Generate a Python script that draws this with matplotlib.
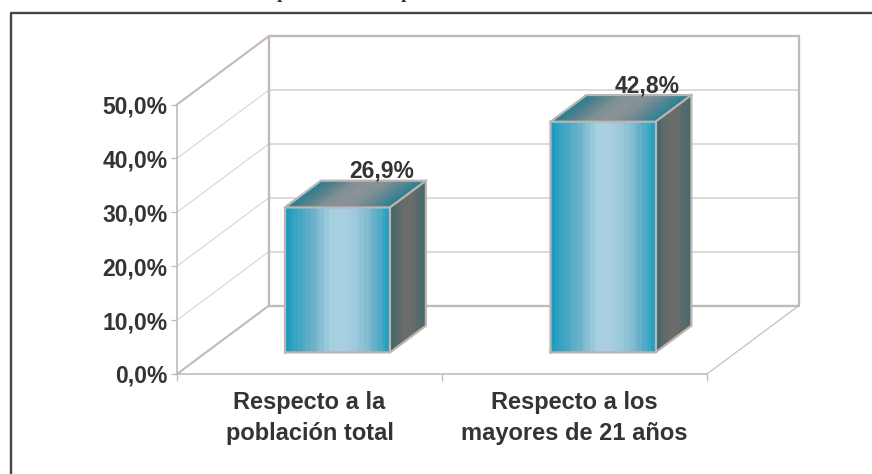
import numpy as np
import matplotlib
matplotlib.use('Agg')
import matplotlib.pyplot as plt
from matplotlib.colors import LinearSegmentedColormap

plt.rcParams['font.family'] = ['Liberation Sans', 'DejaVu Sans']

categories = ['Respecto a la\npoblación total', 'Respecto a los\nmayores de 21 años']
values = [26.9, 42.8]
value_labels = ['26,9%', '42,8%']
y_ticks = [0, 10, 20, 30, 40, 50]
y_labels = ['0,0%', '10,0%', '20,0%', '30,0%', '40,0%', '50,0%']

W, H = 872, 474
LINE = '#c2bab7'
GRID = '#d6cfcf'
TEXT = '#333338'

# pixel placement of the front plane of the 3d box
px0, px1 = 177, 707
py0, py50 = 374, 104.5
XU = (px1 - px0) / 2  # pixels per category
YU = (py0 - py50) / 50  # pixels per percent
# depth of the box, in data units
DX = 92 / XU
DY = 68.5 / YU
# bars sit between these fractions of the depth
D0, D1 = 0.315, 0.705
BAR_W = 105 / XU
BAR_L = [(285 - px0) / XU, (550.5 - px0) / XU]

front_cm = LinearSegmentedColormap.from_list('front', ['#1c9dc0', '#4aa8c4', '#72b3cb', '#a6cfe0',
                                                       '#a9d0e1', '#97c6da', '#6fb1ca', '#24a0c2'], N=24)
top_cm = LinearSegmentedColormap.from_list('top', ['#2a8091', '#55808c', '#7c9094', '#8a9298',
                                                   '#7f9095', '#5c8592', '#2d8294'], N=24)
side_cm = LinearSegmentedColormap.from_list('side', ['#3c676c', '#5a6a6b', '#6b6b6b', '#6b6b6b',
                                                     '#566b6c', '#44696e'], N=16)


def shade(ax, xa, ya, xb, yb, xc, yc, cmap):
    # a quad with a colour running from corner a to corner b, c is the depth/height corner
    s = np.linspace(0, 1, 65)
    t = np.array([0, 1])
    S, T = np.meshgrid(s, t)
    X = xa + S * (xb - xa) + T * (xc - xa)
    Y = ya + S * (yb - ya) + T * (yc - ya)
    C = ((s[:-1] + s[1:]) / 2).reshape(1, -1)
    ax.pcolormesh(X, Y, C, cmap=cmap, shading='flat', clip_on=False, zorder=4,
                  antialiased=False, vmin=0, vmax=1)


fig = plt.figure(figsize=(W / 100, H / 100), dpi=100)
ax = fig.add_axes([px0 / W, 1 - py0 / H, (px1 - px0) / W, (py0 - py50) / H])
ax.set_xlim(0, 2)
ax.set_ylim(0, 50)
ax.patch.set_alpha(0)

# back wall and side wall
for v in y_ticks[1:-1]:
    ax.plot([DX, 2 + DX], [v + DY, v + DY], color=GRID, lw=1.1, clip_on=False, zorder=1)
    ax.plot([0, DX], [v, v + DY], color=GRID, lw=0.7, clip_on=False, zorder=1)
ax.plot([DX, 2 + DX, 2 + DX, DX, DX], [DY, DY, 50 + DY, 50 + DY, DY], color=LINE, lw=1.7,
        clip_on=False, zorder=2)
ax.plot([0, DX], [50, 50 + DY], color=LINE, lw=1.5, clip_on=False, zorder=2)
ax.plot([0, DX], [0, DY], color=LINE, lw=1.5, clip_on=False, zorder=2)
ax.plot([2, 2 + DX], [0, DY], color=LINE, lw=0.8, clip_on=False, zorder=2)

# bars
for left, val, lab in zip(BAR_L, values, value_labels):
    x0 = left
    x1 = left + BAR_W
    y0 = D0 * DY
    y1 = y0 + val
    ddx = (D1 - D0) * DX
    ddy = (D1 - D0) * DY
    shade(ax, x0, y0, x1, y0, x0, y1, front_cm)
    shade(ax, x0, y1, x1, y1, x0 + ddx, y1 + ddy, top_cm)
    shade(ax, x1, y1, x1 + ddx, y1 + ddy, x1, y0, side_cm)
    outline_x = [x0, x1, x1 + ddx, x1 + ddx, x0 + ddx, x0, x0]
    outline_y = [y0, y0, y0 + ddy, y1 + ddy, y1 + ddy, y1, y0]
    ax.plot(outline_x, outline_y, color='#bdb5b2', lw=1.6, clip_on=False, zorder=5,
            solid_joinstyle='miter')
    ax.plot([x0, x1, x1 + ddx], [y1, y1, y1 + ddy], color='#bdb5b2', lw=1.6, clip_on=False, zorder=5)
    ax.plot([x1, x1], [y0, y1], color='#bdb5b2', lw=1.6, clip_on=False, zorder=5)
    ax.text(x1 + ddx - 12 / XU, y1 + ddy + 3 / YU, lab, ha='right', va='baseline', fontsize=16.5,
            fontweight='bold', color=TEXT, zorder=6, clip_on=False)

# axes
for side in ('top', 'right'):
    ax.spines[side].set_visible(False)
for side in ('left', 'bottom'):
    ax.spines[side].set_color(LINE)
    ax.spines[side].set_linewidth(1.2)
ax.set_yticks(y_ticks)
ax.set_yticklabels(y_labels, fontsize=16.5, fontweight='bold', color=TEXT)
ax.tick_params(axis='y', length=4.5, width=0.9, color=LINE, pad=2.5)
ax.set_xticks([0, 1, 2])
ax.set_xticklabels([])
ax.tick_params(axis='x', which='major', length=5, width=0.9, color=LINE)
ax.set_xticks([0.5, 1.5], minor=True)
ax.set_xticklabels(categories, minor=True, fontsize=17, fontweight='bold', color=TEXT,
                   linespacing=1.45)
ax.tick_params(axis='x', which='minor', length=0, pad=12.5)

# outer frame, only top and left are inside the crop
fig.add_artist(plt.Line2D([1, 10.5 / W, 10.5 / W], [1 - 12.5 / H, 1 - 12.5 / H, 0],
                          color='#45454a', lw=1.7, transform=fig.transFigure))

# the title above is cut off by the crop, only two descenders are left
for xp in (282.5, 406.5):
    fig.text(xp / W, 1 + 1.5 / H, 'p', ha='center', va='baseline', fontsize=14, fontweight='bold',
             family='Liberation Serif', color='#333333')

fig.savefig('out.png', dpi=100)
